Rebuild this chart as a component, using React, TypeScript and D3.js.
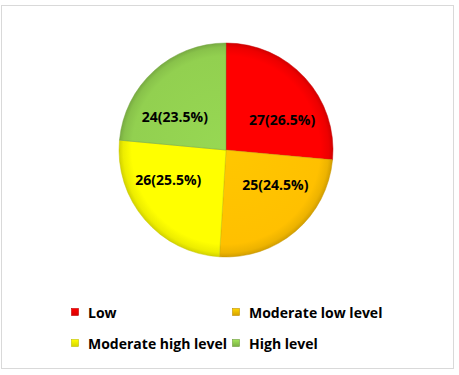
import React from "react";
import * as d3 from "d3";

const categories = ["Low", "Moderate low level", "Moderate high level", "High level"];
const counts = [27, 25, 26, 24];
const percents = ["26.5%", "24.5%", "25.5%", "23.5%"];
const colors = ["#FF0000", "#FFC000", "#FFFF00", "#92D050"];

const W = 459;
const H = 375;
const cx = 226;
const cy = 150;
const R = 107;
const FONT = "'Open Sans', 'Liberation Sans', sans-serif";

const App = () => {
  const pie = d3.pie<number>().sort(null).value((d) => d);
  const slices = pie(counts);
  const arc = d3.arc<d3.PieArcDatum<number>>().innerRadius(0).outerRadius(R);

  // legend layout: two columns, two rows
  const legX = d3.scaleOrdinal<number, number>().domain([0, 1]).range([75, 236]);
  const legY = d3.scaleOrdinal<number, number>().domain([0, 1]).range([312, 343]);

  return (
    <svg width={W} height={H} style={{ position: "absolute", left: 0, top: 0 }}>
      <defs>
        {colors.map((c, i) => {
          const base = d3.color(c)!;
          return (
            <radialGradient key={i} id={`g${i}`} cx={0} cy={0} r={R} gradientUnits="userSpaceOnUse">
              <stop offset="0%" stopColor={base.brighter(0.1).formatHex()} />
              <stop offset="88%" stopColor={c} />
              <stop offset="96%" stopColor={base.darker(0.2).formatHex()} />
              <stop offset="100%" stopColor={base.darker(0.55).formatHex()} />
            </radialGradient>
          );
        })}
        {colors.map((c, i) => {
          const base = d3.color(c)!;
          return (
            <linearGradient key={i} id={`l${i}`} x1="0" y1="0" x2="0" y2="1">
              <stop offset="0%" stopColor={base.brighter(0.3).formatHex()} />
              <stop offset="100%" stopColor={base.darker(0.5).formatHex()} />
            </linearGradient>
          );
        })}
      </defs>
      <rect x={1.5} y={5.5} width={452} height={363} fill="#fff" stroke="#d9d9d9" strokeWidth={1} />
      <g transform={`translate(${cx},${cy})`}>
        {slices.map((s, i) => (
          <path
            key={i}
            d={arc(s) || ""}
            fill={`url(#g${i})`}
            stroke={d3.color(colors[i])!.darker(0.7).formatHex()}
            strokeWidth={0.8}
            strokeOpacity={0.6}
          />
        ))}
        {slices.map((s, i) => {
          const mid = (s.startAngle + s.endAngle) / 2;
          const x = Math.sin(mid) * R * 0.71;
          const y = -Math.cos(mid) * R * 0.42;
          return (
            <text
              key={i}
              x={x}
              y={y}
              textAnchor="middle"
              dominantBaseline="central"
              fontFamily={FONT}
              fontWeight="bold"
              fontSize={14}
              fill="#000"
            >
              {`${counts[i]}(${percents[i]})`}
            </text>
          );
        })}
      </g>
      {categories.map((c, i) => {
        const x = legX(i % 2);
        const y = legY(Math.floor(i / 2));
        return (
          <g key={c}>
            <rect x={x - 3.5} y={y - 3.5} width={7} height={7} fill={`url(#l${i})`} stroke={d3.color(colors[i])!.darker(0.8).formatHex()} strokeWidth={0.6} />
            <text x={x + 13} y={y} dominantBaseline="central" fontFamily={FONT} fontWeight="bold" fontSize={14} fill="#000">
              {c}
            </text>
          </g>
        );
      })}
    </svg>
  );
};

export default App;
